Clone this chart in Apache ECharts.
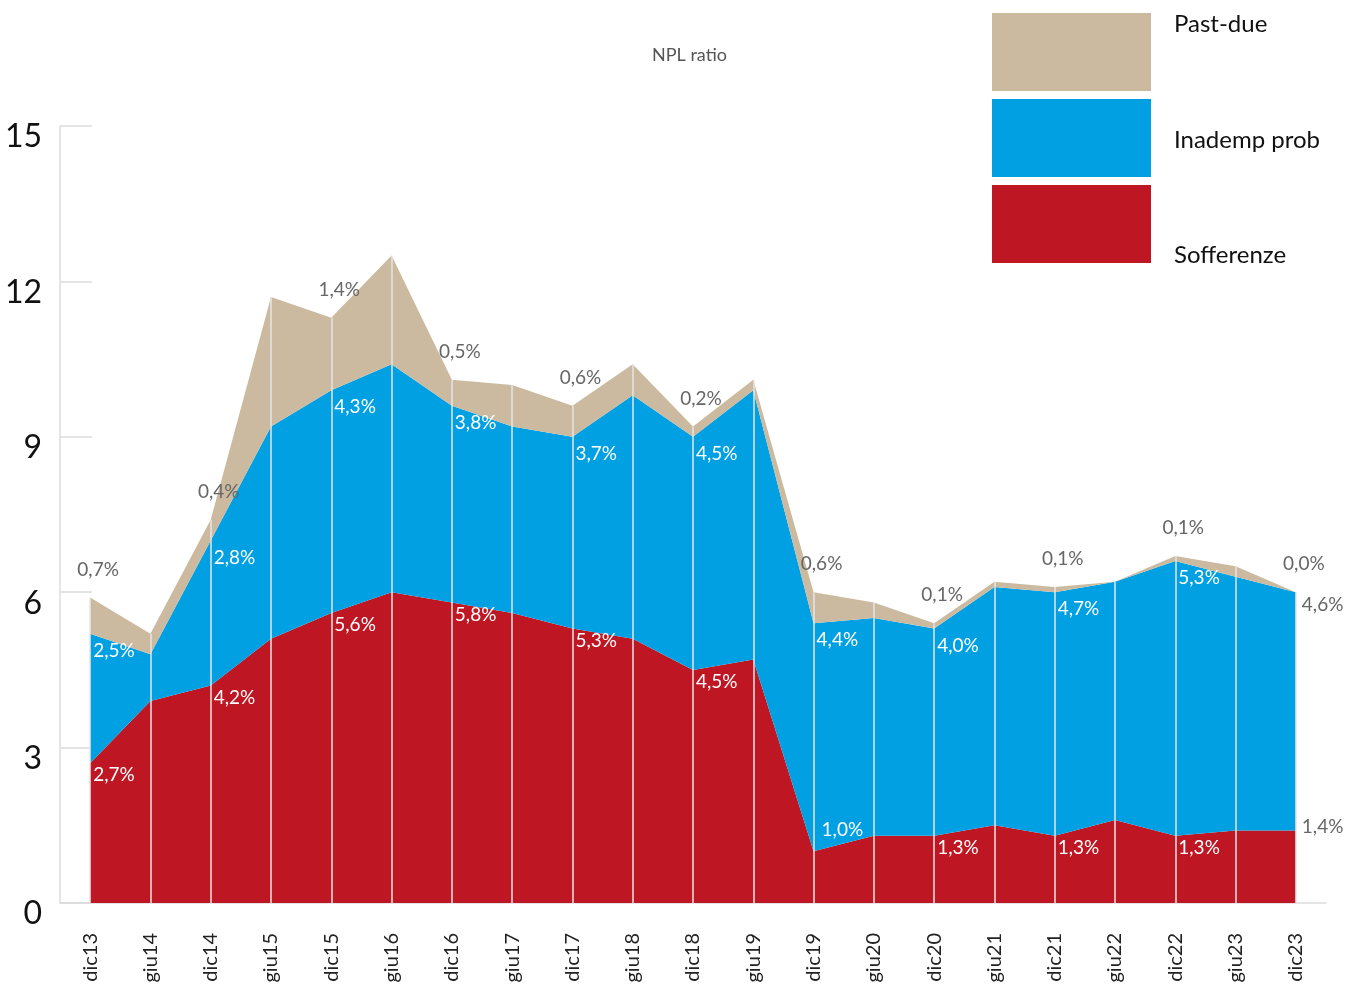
<!DOCTYPE html>
<html>
<head>
<meta charset="utf-8">
<script src="https://cdn.jsdelivr.net/npm/echarts@6/dist/echarts.min.js"></script>
<style>html,body{margin:0;padding:0;background:#fff;}#c{width:1359px;height:992px;}</style>
</head>
<body>
<div id="c"></div>
<script>
const categories = ['dic13','giu14','dic14','giu15','dic15','giu16','dic16','giu17','dic17','giu18','dic18','giu19','dic19','giu20','dic20','giu21','dic21','giu22','dic22','giu23','dic23'];
const sofferenze = [2.7, 3.9, 4.2, 5.1, 5.6, 6.0, 5.8, 5.6, 5.3, 5.1, 4.5, 4.7, 1.0, 1.3, 1.3, 1.5, 1.3, 1.6, 1.3, 1.4, 1.4];
const inademp   = [2.5, 0.9, 2.8, 4.1, 4.3, 4.4, 3.8, 3.6, 3.7, 4.7, 4.5, 5.2, 4.4, 4.2, 4.0, 4.6, 4.7, 4.6, 5.3, 4.9, 4.6];
const pastdue   = [0.7, 0.4, 0.4, 2.5, 1.4, 2.1, 0.5, 0.8, 0.6, 0.6, 0.2, 0.2, 0.6, 0.3, 0.1, 0.1, 0.1, 0.0, 0.1, 0.2, 0.0];
const seriesNames = ['Sofferenze', 'Inademp prob', 'Past-due'];
const yTicks = [0, 3, 6, 9, 12, 15];

const RED = '#BE1622', BLUE = '#00A0E2', TAN = '#CBBA9F';
const FONT = 'Lato';
const last = categories.length - 1;

function fmt(p) {
  if (p.dataIndex % 2 !== 0) return '';
  return Number(p.value).toFixed(1).replace('.', ',') + '%';
}
function build(values, overrides) {
  return values.map((v, i) => overrides[i] ? { value: v, label: overrides[i] } : v);
}
const grayRight = (dy) => ({ position: [6, dy], align: 'left', verticalAlign: 'middle', color: '#666' });

const redData = build(sofferenze, {
  12: { position: [8, -21], align: 'left', verticalAlign: 'middle' },
  [last]: grayRight(-4)
});
const blueData = build(inademp, { [last]: grayRight(13) });
const tanData = build(pastdue, {});

const totals = categories.map((c, i) => sofferenze[i] + inademp[i] + pastdue[i]);
const vlines = categories.map((c, i) => [{ coord: [i, 0] }, { coord: [i, totals[i]] }]);

function areaSeries(name, data, color, label, extra) {
  return Object.assign({
    name, type: 'line', stack: 'npl', data,
    symbol: 'circle', symbolSize: 0.01, showSymbol: true, showAllSymbol: true,
    itemStyle: { color }, lineStyle: { width: 0 },
    areaStyle: { color, opacity: 1 },
    label: Object.assign({ show: true, formatter: fmt, fontFamily: FONT, fontSize: 19 }, label),
    emphasis: { disabled: true }, animation: false
  }, extra || {});
}

const legendPos = { 'Past-due': 'up', 'Inademp prob': 'mid', 'Sofferenze': 'down' };

const chart = echarts.init(document.getElementById('c'));
chart.setOption({
  animation: false,
  title: {
    text: 'NPL ratio', left: 647, top: 41,
    textStyle: { fontFamily: FONT, fontSize: 18, fontWeight: 'normal', color: '#555' }
  },
  legend: {
    orient: 'vertical', left: 992, top: 12, padding: 0, itemWidth: 159, itemHeight: 78, itemGap: 8,
    icon: 'rect', selectedMode: false,
    data: ['Past-due', 'Inademp prob', 'Sofferenze'],
    formatter: name => '{' + legendPos[name] + '|' + name + '}',
    textStyle: {
      fontFamily: FONT, fontSize: 24, color: '#111',
      rich: {
        up:   { fontFamily: FONT, fontSize: 24, color: '#111', padding: [0, 0, 56, 18] },
        mid:  { fontFamily: FONT, fontSize: 24, color: '#111', padding: [4, 0, 0, 18] },
        down: { fontFamily: FONT, fontSize: 24, color: '#111', padding: [62, 0, 0, 18] }
      }
    }
  },
  grid: { left: 60, right: 33, top: 126, bottom: 89, containLabel: false },
  xAxis: {
    type: 'category', data: categories, boundaryGap: true,
    axisLine: { lineStyle: { color: '#dcdcdc', width: 1.5 } },
    axisTick: { alignWithLabel: true, length: 14, lineStyle: { color: '#dcdcdc', width: 1.5 } },
    axisLabel: { rotate: 90, margin: 30, fontFamily: FONT, fontSize: 20, color: '#222', interval: 0 }
  },
  yAxis: {
    type: 'value', min: yTicks[0], max: yTicks[yTicks.length - 1], interval: 3,
    axisLine: { show: true, lineStyle: { color: '#dcdcdc', width: 1.5 } },
    axisTick: { show: true, inside: true, length: 32, lineStyle: { color: '#dcdcdc', width: 1.5 } },
    splitLine: { show: false },
    axisLabel: {
      margin: 18, formatter: '{v|{value}}',
      rich: { v: { fontFamily: FONT, fontSize: 32, color: '#111', padding: [22, 0, 0, 0] } }
    }
  },
  series: [
    areaSeries(seriesNames[0], redData, RED,
      { position: [3, 12], align: 'left', verticalAlign: 'middle', color: '#fff' }),
    areaSeries(seriesNames[1], blueData, BLUE,
      { position: [3, 17], align: 'left', verticalAlign: 'middle', color: '#fff' }),
    areaSeries(seriesNames[2], tanData, TAN,
      { position: [8, -28], align: 'center', verticalAlign: 'middle', color: '#666' },
      { markLine: { silent: true, symbol: 'none', label: { show: false },
          lineStyle: { color: '#e6e6e6', width: 1.5, type: 'solid' }, data: vlines, animation: false } })
  ]
});
</script>
</body>
</html>
